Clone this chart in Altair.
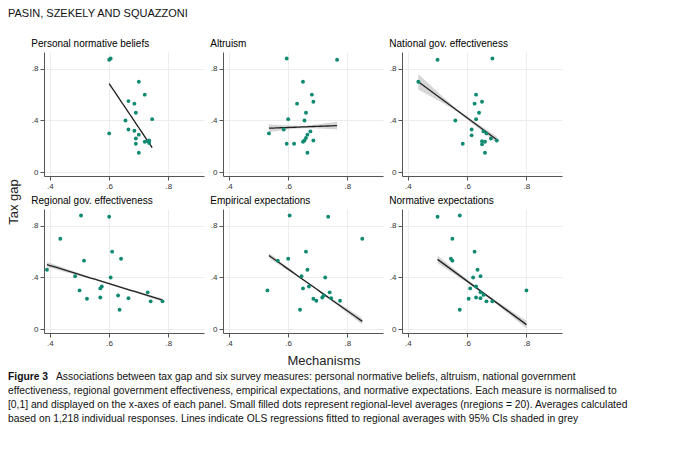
import altair as alt
import numpy as np
import pandas as pd

names = ["Personal normative beliefs", "Altruism", "National gov. effectiveness",
         "Regional gov. effectiveness", "Empirical expectations", "Normative expectations"]

p1_x = [0.60,0.605,0.70,0.72,0.665,0.685,0.69,0.745,0.655,0.665,0.685,0.60,0.70,0.69,0.735,0.72,0.735,0.69,0.70,0.73]
p1_y = [0.87,0.88,0.70,0.60,0.55,0.53,0.46,0.41,0.40,0.33,0.32,0.30,0.29,0.26,0.245,0.235,0.225,0.22,0.15,0.24]
p2_x = [0.595,0.765,0.65,0.68,0.63,0.685,0.66,0.60,0.655,0.585,0.535,0.675,0.665,0.66,0.655,0.65,0.685,0.595,0.62,0.665]
p2_y = [0.88,0.87,0.70,0.60,0.53,0.545,0.46,0.41,0.40,0.33,0.30,0.315,0.29,0.265,0.245,0.235,0.245,0.22,0.22,0.15]
p3_x = [0.50,0.685,0.435,0.63,0.625,0.65,0.64,0.63,0.56,0.615,0.655,0.665,0.615,0.68,0.70,0.65,0.66,0.585,0.65,0.66]
p3_y = [0.87,0.88,0.70,0.60,0.53,0.545,0.46,0.41,0.40,0.33,0.315,0.30,0.285,0.26,0.245,0.24,0.235,0.22,0.215,0.15]
p4_x = [0.505,0.60,0.435,0.61,0.515,0.64,0.39,0.485,0.605,0.575,0.57,0.50,0.63,0.73,0.57,0.665,0.525,0.74,0.78,0.635]
p4_y = [0.88,0.87,0.70,0.60,0.53,0.545,0.46,0.41,0.40,0.33,0.315,0.30,0.26,0.285,0.245,0.24,0.235,0.215,0.215,0.15]
p5_x = [0.605,0.735,0.85,0.66,0.565,0.60,0.665,0.645,0.725,0.53,0.67,0.65,0.74,0.72,0.715,0.745,0.685,0.695,0.775,0.64]
p5_y = [0.88,0.87,0.70,0.60,0.53,0.545,0.46,0.41,0.40,0.30,0.33,0.315,0.285,0.26,0.245,0.24,0.235,0.22,0.22,0.15]
p6_x = [0.50,0.575,0.55,0.625,0.545,0.55,0.635,0.645,0.62,0.63,0.61,0.80,0.645,0.655,0.63,0.645,0.605,0.665,0.685,0.575]
p6_y = [0.87,0.88,0.70,0.60,0.545,0.53,0.46,0.41,0.40,0.33,0.315,0.30,0.285,0.265,0.245,0.24,0.235,0.215,0.215,0.15]

xs = [p1_x, p2_x, p3_x, p4_x, p5_x, p6_x]
ys = [p1_y, p2_y, p3_y, p4_y, p5_y, p6_y]

# fitted lines: start x, start y, end x, end y
fit_x0 = [0.60, 0.535, 0.435, 0.39, 0.535, 0.50]
fit_y0 = [0.685, 0.34, 0.70, 0.50, 0.57, 0.54]
fit_x1 = [0.745, 0.765, 0.70, 0.78, 0.85, 0.80]
fit_y1 = [0.19, 0.36, 0.25, 0.225, 0.06, 0.035]
# CI half-widths as read: left end, centre, right end
ci_left = [0.012, 0.03, 0.06, 0.02, 0.02, 0.03]
ci_mid = [0.006, 0.01, 0.012, 0.006, 0.006, 0.01]
ci_right = [0.012, 0.03, 0.025, 0.012, 0.025, 0.03]

FONT = "Liberation Sans"
lab = "datum.value == 0 ? '0' : replace(format(datum.value, '.1f'), '0.', '.')"

def band_df(i):
    xm = (fit_x0[i] + fit_x1[i]) / 2
    rows = []
    for t in np.linspace(0, 1, 30):
        x = fit_x0[i] + t * (fit_x1[i] - fit_x0[i])
        y = fit_y0[i] + t * (fit_y1[i] - fit_y0[i])
        u = (t - 0.5) * 2
        end = ci_left[i] if u < 0 else ci_right[i]
        hw = np.sqrt(ci_mid[i] ** 2 + (end ** 2 - ci_mid[i] ** 2) * u * u)
        rows.append({"x": x, "y": y, "lo": y - hw, "hi": y + hw})
    return pd.DataFrame(rows)

def panel(i):
    df = pd.DataFrame({"x": xs[i], "y": ys[i]})
    fd = band_df(i)
    xsc = alt.Scale(domain=[0.38, 0.92], nice=False, zero=False)
    ysc = alt.Scale(domain=[-0.03, 0.93], nice=False)
    common = dict(labelExpr=lab, title=None, grid=True, gridColor="#ececec", labelFontSize=8,
                  tickSize=4, domainColor="#555", tickColor="#555", labelColor="#333",
                  labelOverlap=False, labelFlush=False, labelFont=FONT)
    xax = alt.Axis(values=[0.4,0.5,0.6,0.7,0.8,0.9], **common)
    yax = alt.Axis(values=[0,0.2,0.4,0.6,0.8], **common)
    band = alt.Chart(fd).mark_area(color="#bbbbbb", opacity=0.6).encode(
        x=alt.X("x:Q", scale=xsc, axis=xax), y=alt.Y("lo:Q", scale=ysc, axis=yax), y2="hi:Q")
    line = alt.Chart(fd).mark_line(color="#222222", strokeWidth=1.3).encode(
        x=alt.X("x:Q", scale=xsc), y=alt.Y("y:Q", scale=ysc))
    pts = alt.Chart(df).mark_circle(color="#0f8a72", opacity=1, size=15).encode(
        x=alt.X("x:Q", scale=xsc), y=alt.Y("y:Q", scale=ysc))
    return alt.layer(band, line, pts).properties(
        width=160, height=124,
        title=alt.TitleParams(names[i], anchor="start", fontSize=10, fontWeight="normal", font=FONT, offset=3))

row1 = alt.hconcat(panel(0), panel(1), panel(2), spacing=6)
row2 = alt.hconcat(panel(3), panel(4), panel(5), spacing=6)

xtitle = alt.Chart(pd.DataFrame({"t": ["Mechanisms"]})).mark_text(
    fontSize=13, font=FONT, color="#222").encode(text="t:N", x=alt.value(280), y=alt.value(8)).properties(width=560, height=14)

grid = alt.vconcat(row1, row2, xtitle, spacing=6)

ytitle = alt.Chart(pd.DataFrame({"t": ["Tax gap"]})).mark_text(
    fontSize=13, font=FONT, angle=270, color="#222").encode(text="t:N", x=alt.value(6), y=alt.value(150)).properties(width=10, height=300)

top = alt.hconcat(ytitle, grid, spacing=10)

cap_lines = [
    "Associations between tax gap and six survey measures: personal normative beliefs, altruism, national government",
    "effectiveness, regional government effectiveness, empirical expectations, and normative expectations. Each measure is normalised to",
    "[0,1] and displayed on the x-axes of each panel. Small filled dots represent regional-level averages (nregions = 20). Averages calculated",
    "based on 1,218 individual responses. Lines indicate OLS regressions fitted to regional averages with 95% CIs shaded in grey",
]
cap_df = pd.DataFrame({"t": cap_lines, "i": [0, 1, 2, 3]})
fig = alt.Chart(pd.DataFrame({"t": ["Figure 3"]})).mark_text(
    align="left", baseline="top", fontSize=10.3, font=FONT, fontWeight="bold", color="#111").encode(
    text="t:N", x=alt.value(0), y=alt.value(0))
caption = alt.layer(
    alt.Chart(cap_df[cap_df.i > 0]).mark_text(align="left", baseline="top", fontSize=10.3, font=FONT, color="#111").encode(
        text="t:N", x=alt.value(0), y=alt.Y("i:Q", axis=None, scale=alt.Scale(domain=[0, 4], range=[0, 56]))),
    alt.Chart(cap_df[cap_df.i == 0]).mark_text(align="left", baseline="top", fontSize=10.3, font=FONT, color="#111").encode(
        text="t:N", x=alt.value(48), y=alt.Y("i:Q", axis=None, scale=alt.Scale(domain=[0, 4], range=[0, 56]))),
    fig,
).properties(width=650, height=56)

chart = alt.vconcat(top, caption, spacing=4).properties(
    title=alt.TitleParams("PASIN, SZEKELY AND SQUAZZONI", anchor="start", fontSize=11, font=FONT,
                          fontWeight="normal", color="#111", offset=20)
).configure(padding={"left": 0, "top": 0, "right": 0, "bottom": 0}, view=alt.ViewConfig(stroke=None))

chart.save("out.html", embed_options={"renderer": "svg", "actions": False})
